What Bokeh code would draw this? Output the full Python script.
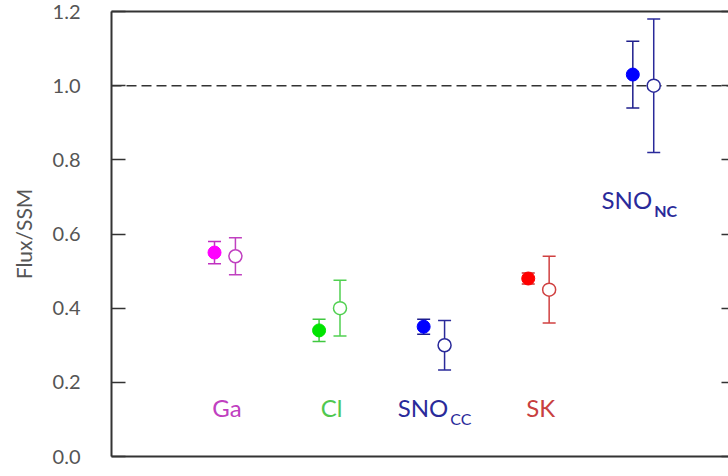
from bokeh.plotting import figure
from bokeh.models import (ColumnDataSource, Whisker, TeeHead, Span, LinearAxis,
                          FixedTicker, Range1d, CustomJSTickFormatter)
from bokeh.core.properties import value
from bokeh.embed import file_html
from bokeh.resources import INLINE

# Solar neutrino experiments: measured flux vs. expectation, both relative to SSM
experiments = ["Ga", "Cl", "SNO_CC", "SK", "SNO_NC"]
measured = [0.55, 0.34, 0.35, 0.48, 1.03]
measured_err = [0.03, 0.03, 0.02, 0.015, 0.09]
expected = [0.54, 0.40, 0.30, 0.45, 1.00]
expected_err = [0.05, 0.075, 0.067, 0.09, 0.18]
y_ticks = [0.0, 0.2, 0.4, 0.6, 0.8, 1.0, 1.2]

fill_colors = ["#ff00ff", "#00e400", "#0000ff", "#ff0000", "#0000ff"]
bar_colors = ["#c030c0", "#40c840", "#1e1e8c", "#c83030", "#1e1e8c"]
open_colors = ["#c040c0", "#50d050", "#2a2a9a", "#d04040", "#2a2a9a"]
label_colors = ["#c040c0", "#50c850", "#2a2a9a", "#c84040", "#2a2a9a"]

FONT = "Lato"
AXIS_COLOR = "#333333"
OFFSET = 0.2  # horizontal shift of the open (expected) points

pos = list(range(1, len(experiments) + 1))
meas_src = ColumnDataSource(dict(
    x=pos, y=measured,
    lo=[m - e for m, e in zip(measured, measured_err)],
    hi=[m + e for m, e in zip(measured, measured_err)],
    fill=fill_colors, bar=bar_colors,
))
exp_src = ColumnDataSource(dict(
    x=[p + OFFSET for p in pos], y=expected,
    lo=[m - e for m, e in zip(expected, expected_err)],
    hi=[m + e for m, e in zip(expected, expected_err)],
    line=open_colors,
))

p = figure(width=728, height=476, output_backend="svg", toolbar_location=None,
           x_range=Range1d(0.015, 5.915), y_range=Range1d(0.0, 1.2),
           min_border_left=111, min_border_right=0, min_border_top=11, min_border_bottom=20)
p.xaxis.visible = False
p.grid.visible = False
p.outline_line_color = None
p.background_fill_color = "white"
p.border_fill_color = "white"

blank = CustomJSTickFormatter(code="return '';")

ax = p.yaxis[0]
ax.ticker = FixedTicker(ticks=y_ticks)
ax.formatter = CustomJSTickFormatter(code="return tick.toFixed(1);")
ax.axis_line_color = AXIS_COLOR
ax.axis_line_width = 2
ax.major_tick_in = 14
ax.major_tick_out = 0
ax.major_tick_line_color = AXIS_COLOR
ax.major_tick_line_width = 1.5
ax.minor_tick_line_color = None
ax.major_label_standoff = 31
ax.major_label_text_font = FONT
ax.major_label_text_font_size = "20px"
ax.major_label_text_color = "#555555"
ax.axis_label = "Flux/SSM"
ax.axis_label_text_font = FONT
ax.axis_label_text_font_style = "normal"
ax.axis_label_text_font_size = "21px"
ax.axis_label_text_color = "#555555"
ax.axis_label_standoff = 14

# Right side: inward ticks only
right = LinearAxis(ticker=FixedTicker(ticks=y_ticks), formatter=blank,
                   major_label_standoff=0, major_tick_in=7, major_tick_out=0,
                   minor_tick_line_color=None, axis_line_color=None,
                   major_tick_line_color=AXIS_COLOR, major_tick_line_width=1.5)
p.add_layout(right, "right")

# Top and bottom frame lines
for side in ("above", "below"):
    fr = LinearAxis(ticker=FixedTicker(ticks=[]), formatter=blank,
                    major_tick_in=0, major_tick_out=0, minor_tick_line_color=None,
                    major_label_standoff=0, axis_line_color=AXIS_COLOR, axis_line_width=2)
    p.add_layout(fr, side)

# SSM reference level, kept beneath the markers
p.add_layout(Span(location=1.0, dimension="width", line_dash="10 5",
                  line_color=AXIS_COLOR, line_width=1.5, level="underlay"))

p.add_layout(Whisker(source=meas_src, base="x", lower="lo", upper="hi",
                     line_color="bar", line_width=1.5, level="underlay",
                     lower_head=TeeHead(size=13, line_color="bar", line_width=1.5),
                     upper_head=TeeHead(size=13, line_color="bar", line_width=1.5)))
p.add_layout(Whisker(source=exp_src, base="x", lower="lo", upper="hi",
                     line_color="line", line_width=1.5, level="underlay",
                     lower_head=TeeHead(size=13, line_color="line", line_width=1.5),
                     upper_head=TeeHead(size=13, line_color="line", line_width=1.5)))

p.scatter("x", "y", source=meas_src, size=13, fill_color="fill", line_color="fill")
p.scatter("x", "y", source=exp_src, size=13, fill_color="white", line_color="line", line_width=1.5)

# Experiment labels (subscripted names drawn as two pieces)
lab_x = [1.12, 2.12, 3.12, 4.12, 5.07]
lab_y = [0.132, 0.132, 0.132, 0.132, 0.694]
main_txt = ["Ga", "Cl", "SNO", "SK", "SNO"]
sub_txt = ["", "", "CC", "", "NC"]
for i in range(len(experiments)):
    x = lab_x[i]
    if sub_txt[i]:
        p.text(x=[x], y=[lab_y[i]], text=[main_txt[i]], text_align="right",
               text_baseline="middle", x_offset=12, text_font=value(FONT),
               text_font_size="24px", text_color=label_colors[i])
        p.text(x=[x], y=[lab_y[i]], text=[sub_txt[i]], text_align="left",
               text_baseline="middle", x_offset=14, y_offset=11, text_font=value(FONT),
               text_font_size="16px", text_font_style="bold" if sub_txt[i] == "NC" else "normal",
               text_color=label_colors[i])
    else:
        p.text(x=[x], y=[lab_y[i]], text=[main_txt[i]], text_align="center",
               text_baseline="middle", text_font=value(FONT),
               text_font_size="24px", text_color=label_colors[i])

open("out.html", "w").write(file_html(p, INLINE))
